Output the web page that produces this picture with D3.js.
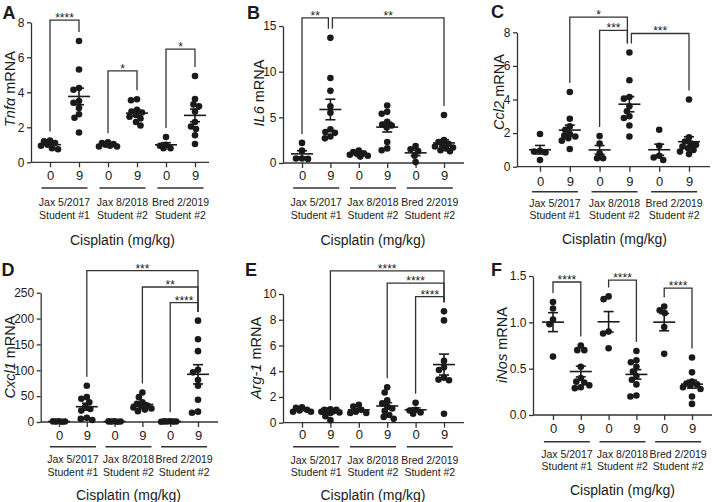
<!DOCTYPE html>
<html><head><meta charset="utf-8">
<script src="https://cdn.jsdelivr.net/npm/d3@7"></script>
<style>
body{margin:0;background:#fff}
svg{display:block}
text{font-family:"Liberation Sans",Arial,Helvetica,sans-serif;fill:#1a1a1a}
</style></head>
<body><svg id="c" width="712" height="502"></svg>
<script>
// ---------- data ----------
const doses = ["0","9","0","9","0","9"];
const cohortLine1 = ["Jax 5/2017","Jax 8/2018","Bred 2/2019"];
const cohortLine2 = ["Student #1","Student #2","Student #2"];
const xTitle = "Cisplatin (mg/kg)";

const tnfa = [
  [1.25,1.2,1.1,1.0,0.95,0.8,0.75],
  [6.93,5.3,4.25,4.15,3.5,3.4,3.1,2.75,2.55,1.7],
  [1.15,1.1,1.05,1.0,0.95,0.9,0.9],
  [3.6,3.55,3.0,2.9,2.85,2.7,2.6,2.5,2.3,2.1],
  [1.45,1.0,0.95,0.8,0.8],
  [4.93,3.62,3.31,3.2,2.9,2.3,2.05,1.9,1.55,1.05]
];
const il6 = [
  [2.2,1.35,0.5,0.5,0.45],
  [13.7,9.3,7.9,6.2,5.5,3.7,3.4,3.3,2.9,2.7],
  [1.35,1.2,1.05,1.0,0.9,0.8,0.7],
  [6.3,5.6,5.4,4.5,4.2,4.1,3.9,2.3,1.6,1.4],
  [1.85,1.5,1.3,0.8,0.1],
  [5.25,2.5,2.3,2.1,2.0,1.8,1.7,1.6,1.4,1.3]
];
const ccl2 = [
  [1.95,0.95,0.9,0.85,0.4],
  [4.45,2.85,2.4,2.2,1.95,1.85,1.8,1.7,1.55,1.05],
  [1.82,1.38,0.8,0.5,0.5],
  [6.8,5.15,4.15,4.05,3.6,3.3,3.0,2.9,2.45,1.8],
  [2.2,1.25,0.65,0.55,0.4],
  [4.0,1.75,1.5,1.4,1.3,1.2,1.1,1.0,0.9,0.75]
];
const cxcl1 = [
  [1.4,1.2,1.0,0.8,0.6],
  [70,48,45,38,30,25,22,8,6,4],
  [1.5,1.2,1.0,0.8,0.5],
  [57,48,38,35,32,30,28,26,24,21],
  [1.4,1.2,1.0,1.0,0.8,0.6],
  [196,160,137,101,96,81,70,43,20,18]
];
const arg1 = [
  [1.2,1.15,1.0,0.95,0.85,0.85],
  [1.05,1.0,1.0,0.95,0.9,0.85,0.8,0.75,0.5,0.2],
  [1.4,1.25,1.0,0.85,0.75,0.75],
  [2.75,2.35,1.75,1.5,1.3,1.1,0.9,0.6,0.45,0.3],
  [1.55,1.0,0.95,0.8,0.7],
  [8.65,7.95,4.8,4.3,4.1,3.5,3.35,3.3,0.7]
];
const inos = [
  [1.22,1.15,1.03,0.98,0.63],
  [0.75,0.70,0.70,0.52,0.40,0.36,0.35,0.32,0.30,0.29],
  [1.28,1.25,0.9,0.88,0.72],
  [0.69,0.59,0.57,0.52,0.47,0.42,0.38,0.33,0.21,0.2],
  [1.17,1.13,1.1,0.95,0.66],
  [0.62,0.46,0.36,0.34,0.33,0.32,0.3,0.28,0.2,0.12]
];

const yTicksA = [0,2,4,6,8];
const yTicksB = [0,5,10,15];
const yTicksC = [0,2,4,6,8];
const yTicksD = [0,50,100,150,200,250];
const yTicksE = [0,2,4,6,8,10];
const yTicksF = [0,0.5,1.0,1.5];

const bracketsA = [
  {from:0,to:1,level:8.13,label:"****"},
  {from:2,to:3,level:5.23,label:"*"},
  {from:4,to:5,level:6.47,label:"*"}
];
const bracketsB = [
  {from:0,to:1,level:15.9,label:"**"},
  {from:1,to:5,level:15.9,label:"**"}
];
const bracketsC = [
  {from:1,to:3,level:8.9,label:"*"},
  {from:2,to:3,level:8.12,label:"***"},
  {from:3,to:5,level:7.93,label:"***"}
];
const bracketsD = [
  {from:1,to:5,level:292.7,label:"***"},
  {from:3,to:5,level:261,label:"**"},
  {from:4,to:5,level:231,label:"****"}
];
const bracketsE = [
  {from:1,to:5,level:11.8,label:"****"},
  {from:3,to:5,level:10.85,label:"****"},
  {from:4,to:5,level:9.8,label:"****"}
];
const bracketsF = [
  {from:0,to:1,level:1.435,label:"****"},
  {from:2,to:3,level:1.455,label:"****"},
  {from:4,to:5,level:1.37,label:"****"}
];

// ---------- layout ----------
const panels = [
  {letter:"A", gene:"Tnf\u03B1", values:tnfa, domain:[0,8], ticks:yTicksA, fmt:d3.format("d"), brackets:bracketsA,
   L:{ax:31, x0:50, x1:195, xEnd:209, y0:162.3, y1:22.3, tp:3.1, gl:188, t1:202, t2:215, tt:240, ytx:10, yty:89, lx:2.5, ly:18.5}},
  {letter:"B", gene:"IL6", values:il6, domain:[0,15], ticks:yTicksB, fmt:d3.format("d"), brackets:bracketsB,
   L:{ax:283, x0:302, x1:444, xEnd:464, y0:163, y1:26, tp:2.4, gl:188, t1:202, t2:215, tt:240, ytx:259, yty:93, lx:247, ly:18.5}},
  {letter:"C", gene:"Ccl2", values:ccl2, domain:[0,8], ticks:yTicksC, fmt:d3.format("d"), brackets:bracketsC,
   L:{ax:517, x0:540, x1:689, xEnd:710, y0:166.7, y1:32.3, tp:5.4, gl:191.7, t1:203, t2:215.5, tt:239.5, ytx:499, yty:92, lx:491, ly:18}},
  {letter:"D", gene:"Cxcl1", values:cxcl1, domain:[0,250], ticks:yTicksD, fmt:d3.format("d"), brackets:bracketsD,
   L:{ax:40.7, x0:59, x1:198, xEnd:218, y0:422, y1:292.7, tp:3.4, gl:446.7, t1:459.5, t2:472.7, tt:495, ytx:10, yty:357, lx:1.5, ly:275.5}},
  {letter:"E", gene:"Arg-1", values:arg1, domain:[0,10], ticks:yTicksE, fmt:d3.format("d"), brackets:bracketsE,
   L:{ax:283, x0:302, x1:444, xEnd:464, y0:422.7, y1:294, tp:1.9, gl:446.7, t1:460, t2:472.7, tt:495, ytx:256, yty:358, lx:245, ly:275.5}},
  {letter:"F", gene:"iNos", values:inos, domain:[0,1.5], ticks:yTicksF, fmt:d3.format(".1f"), brackets:bracketsF,
   L:{ax:533, x0:553, x1:692, xEnd:712, y0:415, y1:276, tp:3.7, gl:441.7, t1:454, t2:466.5, tt:490, ytx:502, yty:345, lx:491, ly:275.5}}
];

const INK = "#1a1a1a", AX = "#333";
const R = 3.3;
const svg = d3.select("#c");

// compact swarm: limited spread, overlaps allowed when crowded
function swarm(vals, y) {
  const pts = vals.map(v => ({v, y: y(v)})).sort((a, b) => a.y - b.y);
  const placed = [];
  const maxSpread = 9, minD = R * 1.7;
  const cands = d3.range(-maxSpread, maxSpread + 0.01, 0.5);
  pts.forEach(p => {
    let best = null, bestScore = -Infinity;
    for (const dx of cands) {
      const md = placed.length ? d3.min(placed, q => Math.hypot(q.dx - dx, q.y - p.y)) : Infinity;
      const ok = md >= minD;
      const score = ok ? 1000 - Math.abs(dx) : md - Math.abs(dx) * 0.05;
      if (score > bestScore) { bestScore = score; best = dx; }
    }
    p.dx = best; placed.push(p);
  });
  return placed;
}

function drawPanel(p) {
  const L = p.L;
  const g = svg.append("g");
  const x = d3.scalePoint().domain(d3.range(6)).range([L.x0, L.x1]);
  const y = d3.scaleLinear().domain(p.domain).range([L.y0, L.y1]);

  const ya = g.append("g").attr("transform", `translate(${L.ax},0)`)
    .call(d3.axisLeft(y).tickValues(p.ticks).tickFormat(p.fmt).tickSize(4).tickSizeOuter(0).tickPadding(2.5));
  ya.attr("font-family", null).attr("font-size", null);
  ya.selectAll("path,line").attr("stroke", AX).attr("stroke-width", 1.3);
  ya.selectAll("text").attr("font-size", 12).attr("fill", INK);

  const xa = g.append("g").attr("transform", `translate(0,${L.y0})`)
    .call(d3.axisBottom(x).tickFormat(i => doses[i]).tickSize(5).tickSizeOuter(0).tickPadding(L.tp));
  xa.attr("font-family", null).attr("font-size", null);
  xa.select(".domain").attr("d", `M${L.ax},0H${L.xEnd}`);
  xa.selectAll("path,line").attr("stroke", AX).attr("stroke-width", 1.3);
  xa.selectAll("text").attr("font-size", 13).attr("fill", INK);

  for (let c = 0; c < 3; c++) {
    const cx = (x(2 * c) + x(2 * c + 1)) / 2;
    g.append("line").attr("x1", cx - 23).attr("x2", cx + 23).attr("y1", L.gl).attr("y2", L.gl)
      .attr("stroke", AX).attr("stroke-width", 1.5);
    g.append("text").attr("x", cx).attr("y", L.t1).attr("dy", "0.35em").attr("text-anchor", "middle")
      .attr("font-size", 10.5).text(cohortLine1[c]);
    g.append("text").attr("x", cx).attr("y", L.t2).attr("dy", "0.35em").attr("text-anchor", "middle")
      .attr("font-size", 10.5).text(cohortLine2[c]);
  }

  g.append("text").attr("x", (L.x0 + L.x1) / 2).attr("y", L.tt).attr("dy", "0.35em")
    .attr("text-anchor", "middle").attr("font-size", 14).text(xTitle);

  const yt = g.append("text").attr("transform", `translate(${L.ytx},${L.yty}) rotate(-90)`)
    .attr("dy", "0.35em").attr("text-anchor", "middle").attr("font-size", 14.5);
  yt.append("tspan").attr("font-style", "italic").text(p.gene);
  yt.append("tspan").text(" mRNA");

  g.append("text").attr("x", L.lx).attr("y", L.ly).attr("font-size", 18).attr("font-weight", "bold").text(p.letter);

  p.values.forEach((vals, i) => {
    const pts = swarm(vals, y);
    g.selectAll(null).data(pts).enter().append("circle")
      .attr("cx", d => x(i) + d.dx).attr("cy", d => d.y).attr("r", R).attr("fill", INK);
    const m = d3.mean(vals), se = d3.deviation(vals) / Math.sqrt(vals.length);
    const cx = x(i);
    g.append("line").attr("x1", cx - 11).attr("x2", cx + 11).attr("y1", y(m)).attr("y2", y(m))
      .attr("stroke", INK).attr("stroke-width", 1.6);
    g.append("line").attr("x1", cx).attr("x2", cx).attr("y1", y(m - se)).attr("y2", y(m + se))
      .attr("stroke", INK).attr("stroke-width", 1.6);
    [m - se, m + se].forEach(v => g.append("line").attr("x1", cx - 5).attr("x2", cx + 5)
      .attr("y1", y(v)).attr("y2", y(v)).attr("stroke", INK).attr("stroke-width", 1.6));
  });

  p.brackets.forEach(b => {
    const offL = p.brackets.some(o => o.to === b.from) ? 2 : 0;
    const offR = p.brackets.some(o => o.from === b.to) ? -2 : 0;
    const xl = x(b.from) + offL, xr = x(b.to) + offR;
    const yb = y(b.level);
    const endL = y(d3.max(p.values[b.from])) - 9;
    const endR = y(d3.max(p.values[b.to])) - 9;
    g.append("path").attr("d", `M${xl},${endL}V${yb}H${xr}V${endR}`)
      .attr("fill", "none").attr("stroke", AX).attr("stroke-width", 1.3);
    g.append("text").attr("x", (xl + xr) / 2).attr("y", yb + 2).attr("text-anchor", "middle")
      .attr("font-size", 12).text(b.label);
  });
}

panels.forEach(drawPanel);
</script></body></html>
